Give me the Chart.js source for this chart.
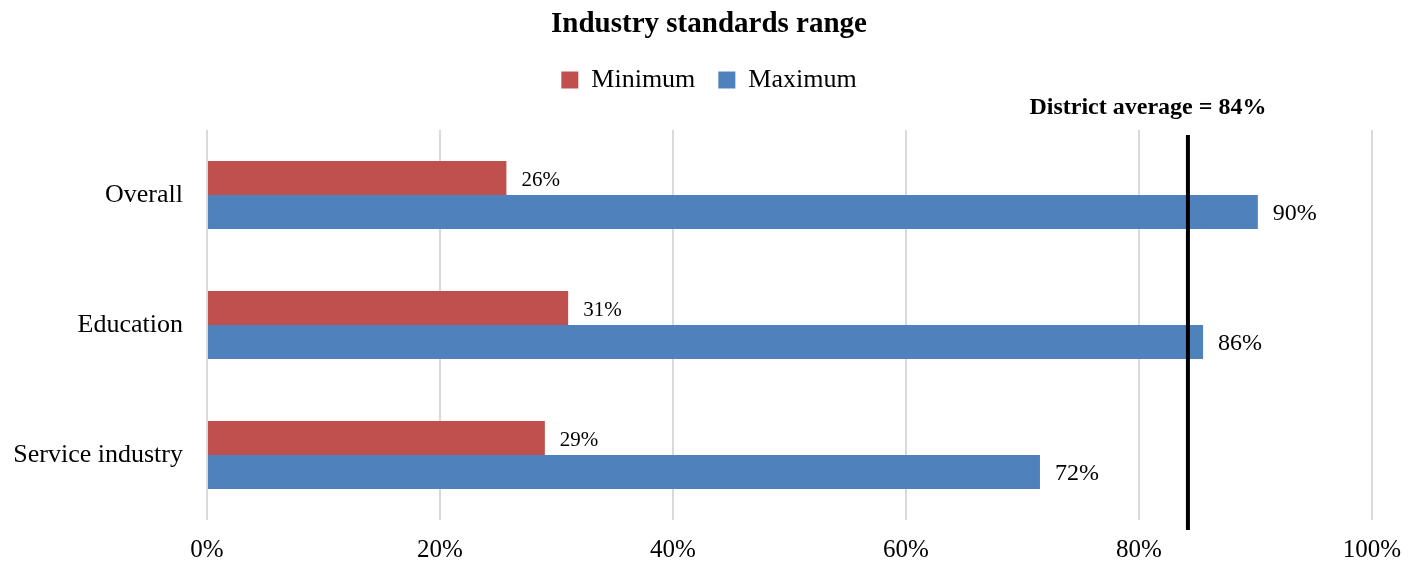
<!DOCTYPE html>
<html>
<head>
<meta charset="utf-8">
<script src="https://cdn.jsdelivr.net/npm/chart.js@4/dist/chart.umd.min.js"></script>
<style>
  html, body { margin: 0; padding: 0; background: #fff; }
  #wrap { width: 1418px; height: 566px; }
</style>
</head>
<body>
<div id="wrap"><canvas id="myChart"></canvas></div>
<script>
var categories = ['Overall', 'Education', 'Service industry'];
var minimumValues = [25.7, 31, 29];
var maximumValues = [90.2, 85.5, 71.5];
var xTicks = [0, 20, 40, 60, 80, 100];
var districtAverage = 84.2;
var districtLabel = 'District average = 84%';

var serif = "'Liberation Serif', 'Times New Roman', serif";

// extra space under the legend
var legendSpacer = {
    id: 'legendSpacer',
    beforeInit: function (chart) {
        var fit = chart.legend.fit;
        chart.legend.fit = function () {
            fit.bind(chart.legend)();
            this.height += 27;
        };
    }
};

// value labels at bar ends + district average line
var extras = {
    id: 'extras',
    afterDatasetsDraw: function (chart) {
        var c = chart.ctx;
        c.save();
        c.fillStyle = '#000';
        c.textBaseline = 'middle';
        c.textAlign = 'left';
        chart.data.datasets.forEach(function (ds, i) {
            var meta = chart.getDatasetMeta(i);
            c.font = (i === 0 ? '21px ' : '24px ') + serif;
            meta.data.forEach(function (bar, j) {
                c.fillText(Math.round(ds.data[j]) + '%', bar.x + 15, bar.y + 2);
            });
        });
        var x = chart.scales.x.getPixelForValue(districtAverage);
        var area = chart.chartArea;
        c.beginPath();
        c.strokeStyle = '#000';
        c.lineWidth = 4;
        c.moveTo(x, area.top + 5);
        c.lineTo(x, area.bottom + 10);
        c.stroke();
        c.font = 'bold 24px ' + serif;
        c.textAlign = 'center';
        c.fillText(districtLabel, x - 40, area.top - 22);
        c.restore();
    }
};

var ctx = document.getElementById('myChart').getContext('2d');
var myChart = new Chart(ctx, {
    type: 'bar',
    data: {
        labels: categories,
        datasets: [{
            label: 'Minimum',
            data: minimumValues,
            backgroundColor: '#C0504D'
        }, {
            label: 'Maximum',
            data: maximumValues,
            backgroundColor: '#4F81BD'
        }]
    },
    options: {
        indexAxis: 'y',
        responsive: true,
        maintainAspectRatio: false,
        animation: false,
        categoryPercentage: 0.523,
        barPercentage: 1,
        layout: { padding: { left: 0, right: 0, top: 0, bottom: 1 } },
        plugins: {
            title: {
                display: true,
                text: 'Industry standards range',
                color: '#000',
                font: { family: serif, size: 29, weight: 'bold' },
                padding: { top: 7.6, bottom: 1.6 }
            },
            legend: {
                position: 'top',
                labels: {
                    color: '#000',
                    font: { family: serif, size: 26 },
                    boxWidth: 17,
                    boxHeight: 17,
                    padding: 23
                }
            },
            tooltip: { enabled: false }
        },
        scales: {
            x: {
                min: 0,
                max: 100,
                afterBuildTicks: function (scale) {
                    scale.ticks = xTicks.map(function (v) { return { value: v }; });
                },
                afterFit: function (scale) { scale.height = 45; },
                ticks: {
                    color: '#000',
                    font: { family: serif, size: 25 },
                    padding: 15,
                    callback: function (v) { return v + '%'; }
                },
                grid: { color: '#D9D9D9', lineWidth: 2, drawTicks: false },
                border: { display: false }
            },
            y: {
                afterFit: function (scale) { scale.width = 207; },
                ticks: {
                    color: '#000',
                    font: { family: serif, size: 26 },
                    padding: 24
                },
                grid: { display: false, drawTicks: false },
                border: { display: false }
            },
            // empty right-hand gutter so the title and legend stay centred on the page
            gutter: {
                type: 'linear',
                position: 'right',
                afterFit: function (scale) { scale.width = 46; },
                ticks: { display: false },
                grid: { display: false, drawTicks: false },
                border: { display: false }
            }
        }
    },
    plugins: [legendSpacer, extras]
});
</script>
</body>
</html>
